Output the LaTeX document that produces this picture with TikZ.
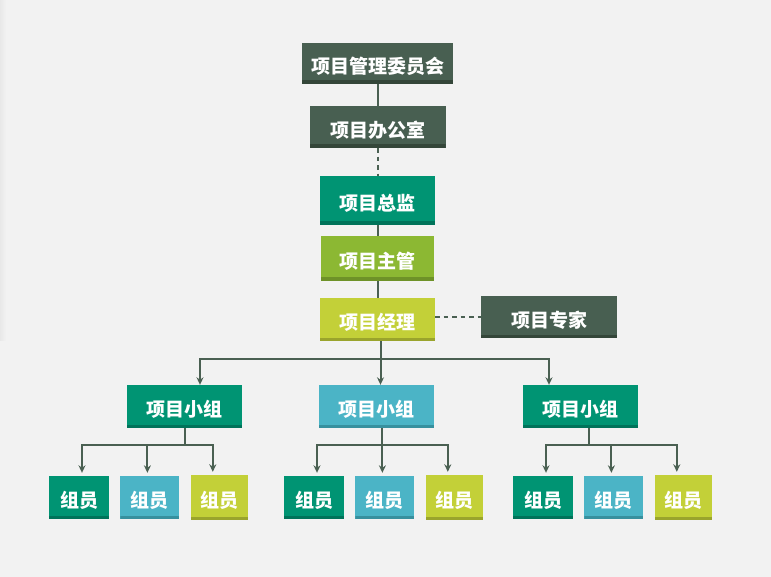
\documentclass[tikz,border=0pt]{standalone}
\usepackage{fontspec}
\usepackage{xcolor}
\usepackage{tikz}
\usetikzlibrary{arrows.meta, positioning}
\newfontfamily\cjk{Noto Sans CJK SC}
\definecolor{vbg}{HTML}{F2F2F2}
\definecolor{vdark}{HTML}{485F51}
\definecolor{vdarkb}{HTML}{344639}
\definecolor{vteal}{HTML}{009473}
\definecolor{vtealb}{HTML}{00735A}
\definecolor{vgreen}{HTML}{8CB833}
\definecolor{vgreenb}{HTML}{6E9228}
\definecolor{vlime}{HTML}{C3D038}
\definecolor{vlimeb}{HTML}{9AA42C}
\definecolor{vblue}{HTML}{4BB4C6}
\definecolor{vblueb}{HTML}{37909E}
\definecolor{vline}{HTML}{4A6052}
\tikzset{
  card/.style={rectangle, inner sep=0pt, text=white, minimum height=43pt,
               text height=20.5pt, text depth=0pt,
               font=\cjk\bfseries\fontsize{19}{19}\selectfont},
  tone/.style 2 args={fill=#1, path picture={
      \fill[#2] ([yshift=3.5pt]path picture bounding box.south west)
        rectangle (path picture bounding box.south east);}},
  darkbox/.style={card, tone={vdark}{vdarkb}},
  tealbox/.style={card, tone={vteal}{vtealb}},
  greenbox/.style={card, tone={vgreen}{vgreenb}},
  limebox/.style={card, tone={vlime}{vlimeb}},
  bluebox/.style={card, tone={vblue}{vblueb}},
  member/.style={minimum width=60pt},
  link/.style={draw=vline, line width=2pt},
  dashlink/.style={link, dash pattern=on 4.5pt off 4pt},
  arrowlink/.style={link, -{Stealth[length=7.5pt, width=7pt]}}
}
\begin{document}
\begin{tikzpicture}[x=1pt, y=-1pt]
  \fill[vbg] (0,0) rectangle (771,577);
  \shade[left color=black!9, right color=vbg] (0,0) rectangle (6,340);

  % top column
  \node[darkbox, minimum width=151pt, minimum height=41pt] (pmc) at (377.5,63.5) {项目管理委员会};
  \node[darkbox, minimum width=136pt, minimum height=42pt] (office) at (377.5,127) {项目办公室};
  \node[tealbox, minimum width=115pt, minimum height=49pt] (director) at (377.5,200.5) {项目总监};
  \node[greenbox, minimum width=113pt, minimum height=45pt] (supervisor) at (377.5,258.5) {项目主管};
  \node[limebox, minimum width=115pt] (manager) at (377.5,319.5) {项目经理};
  \node[darkbox, minimum width=136pt, minimum height=42pt] (expert) at (549,317) {项目专家};

  % teams
  \node[tealbox, minimum width=115pt] (team1) at (184.5,406.5) {项目小组};
  \node[bluebox, minimum width=115pt] (team2) at (376.5,406.5) {项目小组};
  \node[tealbox, minimum width=115pt] (team3) at (580.5,406.5) {项目小组};

  % members
  \foreach \g/\x in {1/79, 2/314, 3/543} {
    \node[tealbox, member] (m\g1) at (\x,497.5) {组员};
    \node[bluebox, member, minimum width=59pt, right=11pt of m\g1] (m\g2) {组员};
    \node[limebox, member, minimum width=57pt, minimum height=45pt, right=11pt of m\g2] (m\g3) {组员};
  }

  \draw[link] (pmc) -- (office);
  \draw[dashlink] (office) -- (director);
  \draw[link] (director) -- (supervisor);
  \draw[link] (supervisor) -- (manager);
  \draw[dashlink] (manager.east |- expert) -- (expert.west);

  \coordinate (hub) at ([xshift=3pt, yshift=-18pt]manager.south);
  \draw[link] ([xshift=3pt]manager.south) -- (hub);
  \draw[arrowlink] (hub) -| ([xshift=15.5pt]team1.north);
  \draw[arrowlink] (hub) -- (hub |- team2.north);
  \draw[arrowlink] (hub) -| ([xshift=-31.5pt]team3.north);

  \foreach \g/\dx in {1/0, 2/5.5, 3/8.5} {
    \coordinate (fork\g) at ([xshift=\dx pt, yshift=-17pt]team\g.south);
    \draw[link] ([xshift=\dx pt]team\g.south) -- (fork\g);
    \draw[arrowlink, shorten >=3pt] (fork\g) -| ([xshift=3pt]m\g1.north);
    \draw[arrowlink, shorten >=3pt] (fork\g) -| ([xshift=-2.5pt]m\g2.north);
    \draw[arrowlink, shorten >=3pt] (fork\g) -| ([xshift=-6.5pt]m\g3.north);
  }
\end{tikzpicture}
\end{document}
